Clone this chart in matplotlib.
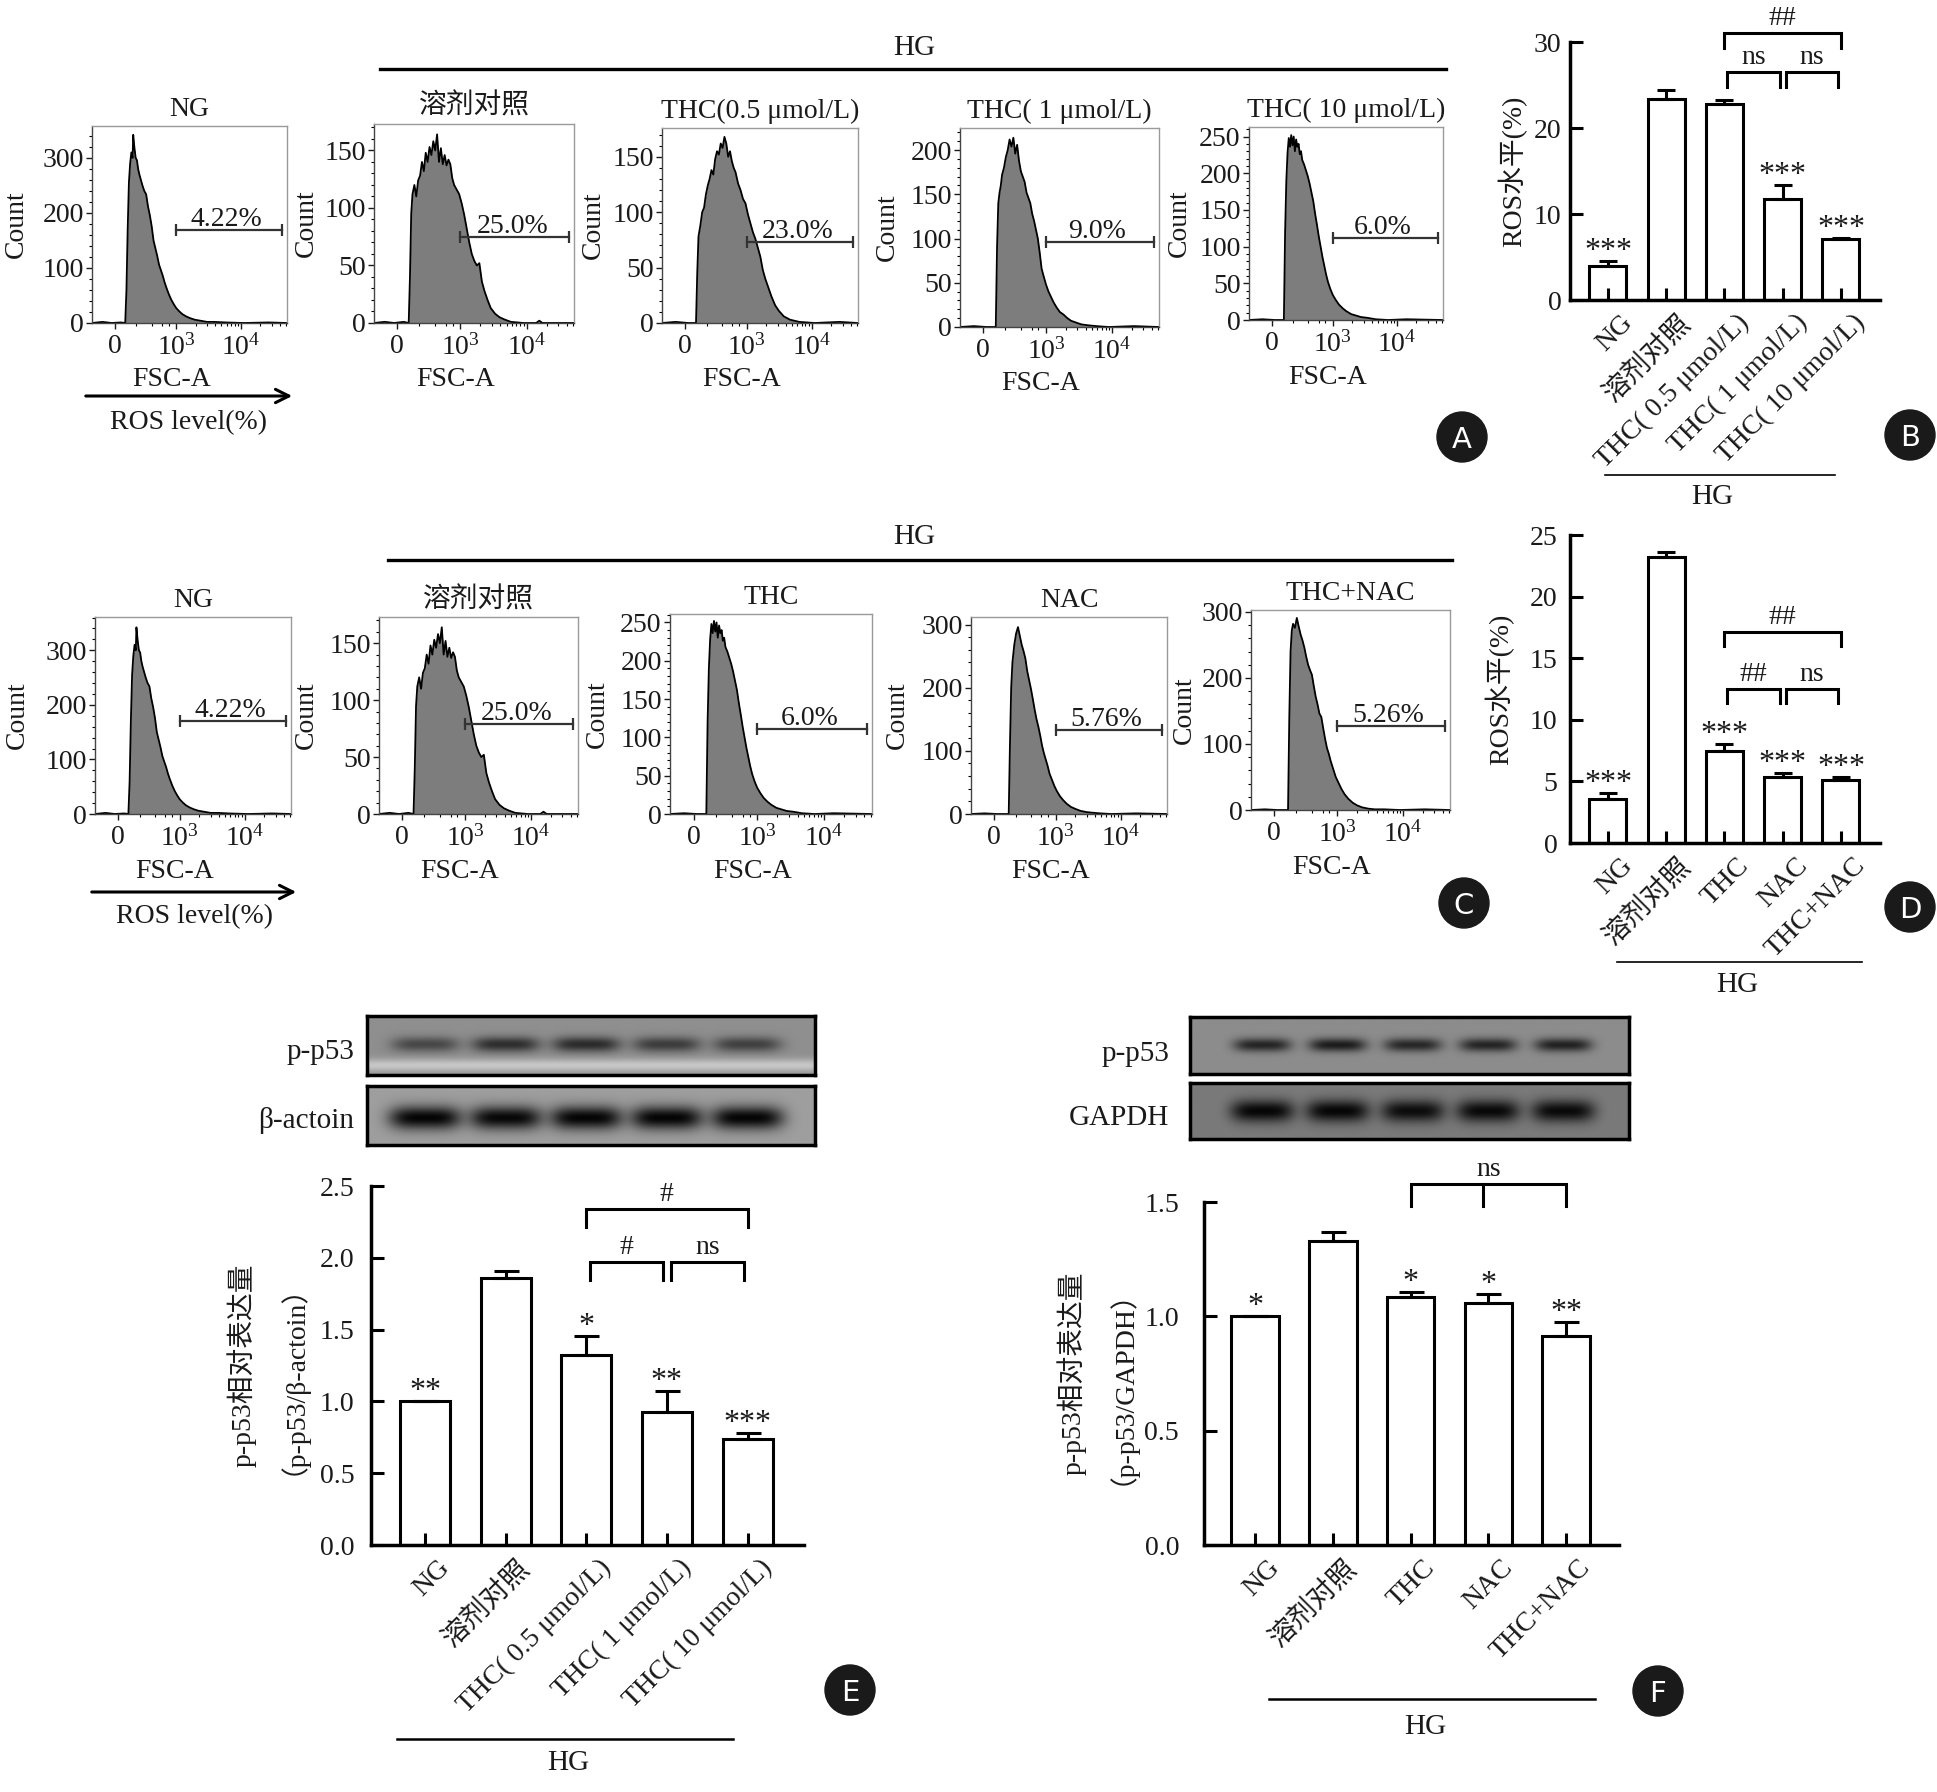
import numpy as np
import matplotlib
matplotlib.use("Agg")
import matplotlib.pyplot as plt
from matplotlib.patches import Circle, FancyArrowPatch
from matplotlib.ticker import FixedLocator, MultipleLocator

plt.rcParams['font.family'] = ['Liberation Serif', 'Noto Sans CJK SC']
plt.rcParams['mathtext.fontset'] = 'stix'
plt.rcParams['axes.unicode_minus'] = False

W, H = 1937, 1792
INK = '#1a1a1a'
FS = 20

# ---------------- flow cytometry histograms ----------------
# x in display decades: 0 -> "0", 1 -> 10^3, 2.05 -> 10^4
ng_u = [-0.37, -0.2, -0.05, 0.10, 0.17, 0.19, 0.21, 0.23, 0.25, 0.27, 0.29, 0.30, 0.32, 0.34, 0.36,
        0.38, 0.40, 0.42, 0.45, 0.48, 0.51, 0.54, 0.57, 0.60, 0.63, 0.66, 0.69, 0.72, 0.75, 0.78,
        0.81, 0.84, 0.88, 0.92, 0.96, 1.00, 1.05, 1.10, 1.16, 1.22, 1.30, 1.40, 1.50, 1.62, 1.80,
        2.10, 2.50, 2.80]
ng_c = [0, 2, 0, 1, 0, 60, 170, 255, 290, 310, 300, 342, 318, 300, 296,
        280, 270, 262, 250, 240, 234, 212, 196, 176, 150, 136, 122, 106, 96, 86,
        74, 64, 52, 42, 34, 27, 21, 16, 12, 9, 6, 4, 2, 2, 1,
        0, 1, 0]

veh_u = [-0.37, -0.2, -0.05, 0.10, 0.18, 0.20, 0.22, 0.24, 0.27, 0.30, 0.33, 0.36, 0.39, 0.42, 0.45,
         0.48, 0.51, 0.54, 0.57, 0.60, 0.63, 0.66, 0.69, 0.72, 0.75, 0.78, 0.81, 0.84, 0.87, 0.90,
         0.94, 0.98, 1.02, 1.06, 1.10, 1.14, 1.18, 1.22, 1.26, 1.30, 1.34, 1.38, 1.43, 1.48, 1.55,
         1.62, 1.70, 1.80, 2.00, 2.20, 2.25, 2.30, 2.80]
veh_c = [0, 1, 0, 1, 0, 40, 95, 112, 120, 110, 124, 128, 140, 132, 148,
         140, 153, 146, 158, 150, 164, 140, 152, 138, 146, 137, 142, 138, 126, 120,
         116, 112, 104, 94, 82, 70, 60, 54, 50, 52, 36, 28, 20, 13, 8,
         5, 3, 1, 0, 0, 2, 0, 0]

t05_u = [-0.37, -0.15, 0.05, 0.18, 0.20, 0.22, 0.25, 0.28, 0.31, 0.34, 0.37, 0.40, 0.43, 0.46, 0.49,
         0.52, 0.55, 0.58, 0.61, 0.64, 0.67, 0.70, 0.73, 0.76, 0.79, 0.82, 0.86, 0.90, 0.94, 0.98,
         1.02, 1.06, 1.10, 1.14, 1.18, 1.22, 1.26, 1.30, 1.35, 1.40, 1.46, 1.52, 1.60, 1.70, 1.85,
         2.10, 2.50, 2.80]
t05_c = [0, 1, 0, 0, 45, 78, 88, 100, 104, 116, 124, 130, 138, 134, 148,
         155, 152, 162, 158, 168, 162, 150, 155, 146, 140, 136, 126, 120, 112, 108,
         98, 90, 82, 76, 68, 60, 48, 40, 32, 24, 16, 11, 6, 3, 1,
         0, 1, 0]

t1_u = [-0.37, -0.15, 0.05, 0.20, 0.22, 0.24, 0.26, 0.28, 0.30, 0.33, 0.36, 0.39, 0.42, 0.45, 0.48,
        0.51, 0.54, 0.57, 0.60, 0.63, 0.66, 0.69, 0.72, 0.75, 0.78, 0.81, 0.84, 0.87, 0.90, 0.93,
        0.96, 1.00, 1.04, 1.08, 1.12, 1.17, 1.22, 1.28, 1.34, 1.40, 1.48, 1.56, 1.66, 1.80, 2.00,
        2.40, 2.80]
t1_c = [0, 1, 0, 0, 90, 140, 152, 160, 172, 180, 192, 200, 212, 204, 214,
        196, 206, 188, 176, 170, 164, 152, 146, 140, 128, 120, 110, 100, 84, 66,
        58, 48, 40, 34, 28, 22, 17, 14, 10, 7, 5, 3, 2, 1, 0,
        1, 0]

thc_u = [-0.37, -0.15, 0.05, 0.20, 0.22, 0.24, 0.26, 0.28, 0.30, 0.32, 0.34, 0.36, 0.38, 0.40, 0.42,
         0.44, 0.46, 0.48, 0.50, 0.53, 0.56, 0.59, 0.62, 0.65, 0.68, 0.71, 0.74, 0.77, 0.80, 0.83,
         0.86, 0.89, 0.92, 0.96, 1.00, 1.05, 1.10, 1.16, 1.22, 1.30, 1.38, 1.46, 1.56, 1.70, 1.90,
         2.20, 2.80]
thc_c = [0, 1, 0, 0, 120, 190, 228, 248, 236, 252, 238, 250, 230, 246, 236,
         240, 226, 230, 218, 212, 204, 196, 186, 174, 162, 145, 130, 114, 100, 86,
         74, 62, 52, 42, 34, 27, 21, 16, 12, 8, 6, 4, 3, 1, 0,
         1, 0]

nac_u = [-0.37, -0.15, 0.05, 0.24, 0.26, 0.28, 0.30, 0.33, 0.36, 0.39, 0.42, 0.45, 0.48, 0.51, 0.54,
         0.57, 0.60, 0.63, 0.66, 0.69, 0.72, 0.75, 0.78, 0.81, 0.84, 0.87, 0.90, 0.94, 0.98, 1.02,
         1.07, 1.12, 1.18, 1.25, 1.32, 1.40, 1.50, 1.60, 1.72, 1.90, 2.30, 2.80]
nac_c = [0, 1, 0, 0, 110, 200, 240, 268, 286, 296, 282, 268, 258, 246, 226,
         212, 198, 182, 165, 150, 138, 124, 108, 96, 86, 76, 64, 54, 44, 36,
         28, 22, 16, 11, 8, 5, 3, 2, 1, 0, 1, 0]

tn_u = [-0.37, -0.15, 0.05, 0.22, 0.24, 0.26, 0.28, 0.30, 0.33, 0.36, 0.39, 0.42, 0.45, 0.48, 0.51,
        0.54, 0.57, 0.60, 0.63, 0.66, 0.69, 0.72, 0.75, 0.78, 0.81, 0.84, 0.87, 0.90, 0.94, 0.98,
        1.02, 1.07, 1.12, 1.18, 1.25, 1.32, 1.40, 1.50, 1.60, 1.75, 2.00, 2.40, 2.80]
tn_c = [0, 1, 0, 0, 140, 240, 272, 282, 276, 291, 278, 266, 257, 246, 232,
        220, 212, 205, 188, 172, 160, 146, 141, 124, 108, 94, 85, 74, 62, 50,
        42, 32, 24, 17, 11, 7, 4, 2, 1, 1, 0, 1, 0]

titles_a = ['NG', '溶剂对照', 'THC(0.5 μmol/L)', 'THC( 1 μmol/L)', 'THC( 10 μmol/L)']
gate_txt_a = ['4.22%', '25.0%', '23.0%', '9.0%', '6.0%']
gate_a = [169, 75, 73, 96, 112]
ymax_a = [358, 173, 176, 225, 263]
ystep_a = [100, 50, 50, 50, 50]

titles_c = ['NG', '溶剂对照', 'THC', 'NAC', 'THC+NAC']
gate_txt_c = ['4.22%', '25.0%', '6.0%', '5.76%', '5.26%']
gate_c = [170, 79, 111, 133, 128]
ymax_c = [361, 173, 261, 312, 303]
ystep_c = [100, 50, 50, 100, 100]

# ---------------- bar charts ----------------
groups_dose = ['NG', '溶剂对照', 'THC( 0.5 μmol/L)', 'THC( 1 μmol/L)', 'THC( 10 μmol/L)']
groups_nac = ['NG', '溶剂对照', 'THC', 'NAC', 'THC+NAC']

ros_b = [3.9, 23.4, 22.8, 11.8, 7.05]
ros_b_err = [0.6, 1.0, 0.5, 1.6, 0.15]
stars_b = ['***', '', '', '***', '***']

ros_d = [3.6, 23.2, 7.45, 5.35, 5.15]
ros_d_err = [0.45, 0.4, 0.55, 0.35, 0.2]
stars_d = ['***', '', '***', '***', '***']

p53_e = [1.0, 1.86, 1.32, 0.925, 0.735]
p53_e_err = [0.0, 0.05, 0.135, 0.15, 0.045]
stars_e = ['**', '', '*', '**', '***']

p53_f = [1.0, 1.33, 1.085, 1.06, 0.913]
p53_f_err = [0.0, 0.04, 0.023, 0.036, 0.061]
stars_f = ['*', '', '*', '*', '**']

# comparison brackets: (group i, group j, level, label)
brk_b = [(2, 4, 31.0, '##'), (2, 3, 26.5, 'ns'), (3, 4, 26.5, 'ns')]
brk_d = [(2, 4, 17.1, '##'), (2, 3, 12.5, '##'), (3, 4, 12.5, 'ns')]
brk_e = [(2, 4, 2.34, '#'), (2, 3, 1.97, '#'), (3, 4, 1.97, 'ns')]
brk_f = [(2, 4, 1.577, 'ns')]

# western blot lane darkness
blot_e_p53 = [0.5, 0.68, 0.7, 0.58, 0.55]
blot_e_actin = [0.97, 0.95, 0.97, 0.97, 0.97]
blot_f_p53 = [0.74, 0.8, 0.72, 0.74, 0.76]
blot_f_gapdh = [0.95, 0.95, 0.9, 0.93, 0.92]

fig = plt.figure(figsize=(W / 100, H / 100), dpi=100)


def box(l, t, r, b):
    return [l / W, 1 - b / H, (r - l) / W, (b - t) / H]


DEC = [0, 1, 2.05]
minor_flow = ([0.35, 0.6, 0.77, 0.88]
              + [1 + 1.05 * np.log10(k) for k in range(2, 10)]
              + [2.05 + 1.05 * np.log10(k) for k in range(2, 6)])


def flow(rect, xs, ys, ymax, ystep, title, gate, gate_txt, lab_off=72):
    ax = fig.add_axes(box(*rect))
    ax.fill_between(xs, ys, 0, color='#7d7d7d', lw=0)
    ax.plot(xs, ys, color='black', lw=1.3)
    ax.set_xlim(-0.37, 2.8)
    ax.set_ylim(0, ymax)
    ax.set_xticks(DEC)
    ax.set_xticklabels(['0', r'$\mathregular{10^3}$', r'$\mathregular{10^4}$'])
    ax.xaxis.set_minor_locator(FixedLocator(minor_flow))
    ax.set_yticks(np.arange(0, ymax, ystep))
    ax.yaxis.set_minor_locator(MultipleLocator(ystep / 5))
    ax.tick_params(which='major', length=4, width=1, labelsize=FS, pad=2, colors=INK)
    ax.tick_params(which='minor', length=2, width=0.8)
    ax.tick_params(axis='x', pad=4)
    for s in ['top', 'right']:
        ax.spines[s].set_color('#9a9a9a')
        ax.spines[s].set_linewidth(1)
    for s in ['left', 'bottom']:
        ax.spines[s].set_color('#444444')
        ax.spines[s].set_linewidth(1)
    ax.plot([1, 2.72], [gate, gate], color='#333333', lw=1.6, marker='|', ms=9, mew=1.6)
    ax.annotate(gate_txt, xy=(1.82, gate), xytext=(0, 4), textcoords='offset pixels',
                ha='center', va='baseline', fontsize=FS, color=INK)
    ax.annotate(title, xy=(0.5, 1), xycoords='axes fraction', xytext=(0, 4),
                textcoords='offset pixels', ha='center', va='bottom', fontsize=FS, color=INK)
    ax.annotate('FSC-A', xy=(0.92, 0), xycoords=('data', 'axes fraction'), xytext=(0, -57),
                textcoords='offset pixels', ha='center', va='center', fontsize=FS, color=INK)
    ax.annotate('Count', xy=(0, 0.5), xycoords='axes fraction', xytext=(-lab_off, 0),
                textcoords='offset pixels', rotation=90, ha='center', va='center',
                fontsize=FS, color=INK)
    return ax


rects_a = [(92, 126, 287, 323), (374, 124, 574, 323), (662, 128, 858, 323),
           (960, 128, 1159, 327), (1249, 127, 1443, 320)]
hist_a = [(ng_u, ng_c), (veh_u, veh_c), (t05_u, t05_c), (t1_u, t1_c), (thc_u, thc_c)]
offs_a = [76, 68, 69, 73, 70]
for k in range(5):
    flow(rects_a[k], hist_a[k][0], hist_a[k][1], ymax_a[k], ystep_a[k], titles_a[k],
         gate_a[k], gate_txt_a[k], offs_a[k])

rects_c = [(95, 617, 291, 814), (379, 617, 578, 814), (670, 614, 872, 814),
           (971, 617, 1167, 814), (1251, 610, 1450, 810)]
hist_c = [(ng_u, ng_c), (veh_u, veh_c), (thc_u, thc_c), (nac_u, nac_c), (tn_u, tn_c)]
offs_c = [78, 73, 73, 74, 67]
for k in range(5):
    flow(rects_c[k], hist_c[k][0], hist_c[k][1], ymax_c[k], ystep_c[k], titles_c[k],
         gate_c[k], gate_txt_c[k], offs_c[k])


def bars(rect, vals, errs, labels, stars, ymax, ystep, fmt, xlim, width, cap, ypad,
         ylabs, brackets, drop, mid=None):
    ax = fig.add_axes(box(*rect))
    ax.set_axisbelow(False)
    x = np.arange(len(vals))
    ax.bar(x, vals, width=width, color='white', edgecolor='black', linewidth=2.2, zorder=2)
    ax.errorbar(x, vals, yerr=[np.zeros(len(errs)), errs], fmt='none', ecolor='black',
                elinewidth=2.2, capsize=cap, capthick=2.2, zorder=3)
    ax.set_xlim(*xlim)
    ax.set_ylim(0, ymax)
    yt = np.arange(0, ymax + 1e-9, ystep)
    ax.set_yticks(yt)
    ax.set_yticklabels([fmt.format(v) for v in yt])
    ax.set_xticks(x)
    ax.set_xticklabels([])
    ax.tick_params(direction='in', length=9, width=2.2, labelsize=FS, colors='black',
                   labelcolor=INK)
    ax.tick_params(axis='y', pad=ypad)
    for s in ['top', 'right']:
        ax.spines[s].set_visible(False)
    for s in ['left', 'bottom']:
        ax.spines[s].set_linewidth(2.5)
    for i, lab in enumerate(labels):
        ax.annotate(lab, xy=(i, 0), xytext=(12, -10), textcoords='offset pixels', rotation=45,
                    rotation_mode='anchor', ha='right', va='top', fontsize=FS, color=INK)
    for i, s in enumerate(stars):
        if s:
            ax.annotate(s, xy=(i, vals[i] + errs[i]), xytext=(0, 2), textcoords='offset pixels',
                        ha='center', va='baseline', fontsize=23, color=INK)
    for i, j, lev, lab in brackets:
        gap = 0.05 if j - i == 1 else 0.0
        x1, x2 = i + gap, j - gap
        ax.plot([x1, x1, x2, x2], [lev - drop, lev, lev, lev - drop], color='black', lw=2.2,
                clip_on=False, solid_joinstyle='miter')
        if mid is not None:
            ax.plot([mid, mid], [lev, lev - drop], color='black', lw=2.2, clip_on=False)
        ax.annotate(lab, xy=((x1 + x2) / 2, lev), xytext=(0, 8), textcoords='offset pixels',
                    ha='center', va='baseline', fontsize=FS, color=INK, annotation_clip=False)
    for txt, off in ylabs:
        ax.annotate(txt, xy=(0, 0.5), xycoords='axes fraction', xytext=(-off, 0),
                    textcoords='offset pixels', rotation=90, ha='center', va='center',
                    fontsize=FS, color=INK)
    return ax


bars((1570, 42, 1880, 300), ros_b, ros_b_err, groups_dose, stars_b, 30, 10, '{:.0f}',
     (-0.652, 4.67), 0.635, 6.8, 6, [('ROS水平(%)', 57)], brk_b, 1.7)
bars((1570, 535, 1880, 843), ros_d, ros_d_err, groups_nac, stars_d, 25, 5, '{:.0f}',
     (-0.652, 4.67), 0.635, 6.8, 9, [('ROS水平(%)', 70)], brk_d, 1.15)
bars((371, 1186, 804, 1545), p53_e, p53_e_err, groups_dose, stars_e, 2.5, 0.5, '{:.1f}',
     (-0.67, 4.7), 0.62, 9, 12,
     [('p-p53相对表达量', 129), ('（p-p53/β-actoin）', 93)], brk_e, 0.125)
bars((1204, 1202, 1619, 1545), p53_f, p53_f_err, groups_nac, stars_f, 1.5, 0.5, '{:.1f}',
     (-0.656, 4.68), 0.61, 9, 18,
     [('p-p53相对表达量', 132), ('（p-p53/GAPDH）', 97)], brk_f, 0.093, mid=2.93)


def blot(rect, xlim, dark, band_y, band_h, band_w, bg, strip=0.0):
    ax = fig.add_axes(box(*rect))
    gx = np.linspace(xlim[0], xlim[1], 450)
    gy = np.linspace(0, 1, 90)
    X, Y = np.meshgrid(gx, gy)
    img = np.full(X.shape, bg)
    img = img + strip * np.exp(-((Y - 0.84) / 0.11) ** 2)
    for i, d in enumerate(dark):
        band = np.exp(-np.abs((X - i) / band_w) ** 4) * np.exp(-((Y - band_y) / band_h) ** 2)
        img = img * (1 - d * band)
    ax.imshow(np.clip(img, 0, 1), extent=(xlim[0], xlim[1], 1, 0), cmap='gray', vmin=0, vmax=1,
              aspect='auto', interpolation='bilinear')
    ax.set_xlim(*xlim)
    ax.set_ylim(1, 0)
    ax.set_xticks([])
    ax.set_yticks([])
    for s in ax.spines.values():
        s.set_linewidth(2.5)
    return ax


blot((367, 1016, 815, 1075), (-0.719, 4.833), blot_e_p53, 0.48, 0.13, 0.42, 0.56, 0.22)
blot((367, 1086, 815, 1145), (-0.719, 4.833), blot_e_actin, 0.54, 0.2, 0.45, 0.62)
blot((1190, 1017, 1629, 1074), (-0.957, 4.88), blot_f_p53, 0.49, 0.12, 0.38, 0.55)
blot((1190, 1083, 1629, 1139), (-0.957, 4.88), blot_f_gapdh, 0.5, 0.2, 0.42, 0.48)

# ---------------- overlay in pixel coordinates ----------------
ov = fig.add_axes([0, 0, 1, 1])
ov.set_xlim(0, W)
ov.set_ylim(H, 0)
ov.axis('off')

for x1, x2, y, lw in [(380, 1446, 69, 2.4), (388, 1452, 560, 2.4), (1605, 1835, 475, 1.2),
                      (1617, 1862, 962, 1.2), (397, 733, 1739, 1.8), (1269, 1595, 1699, 1.8)]:
    ov.plot([x1, x2], [y, y], color='black', lw=lw)
for x, y in [(914, 48), (914, 537), (1712, 497), (1737, 985), (568, 1763), (1425, 1727)]:
    ov.text(x, y, 'HG', ha='center', va='center', fontsize=21, color=INK)

for x1, x2, y, ty in [(83, 295, 396, 423), (89, 299, 892, 917)]:
    ov.add_patch(FancyArrowPatch((x1, y), (x2, y), arrowstyle='->', mutation_scale=24,
                                 lw=2.2, color='black'))
    ov.text((x1 + x2) / 2, ty, 'ROS level(%)', ha='center', va='center', fontsize=FS, color=INK)

for x, y, t in [(354, 1052, 'p-p53'), (354, 1120, 'β-actoin'),
                (1169, 1054, 'p-p53'), (1169, 1118, 'GAPDH')]:
    ov.text(x, y, t, ha='right', va='center', fontsize=21, color=INK)

for x, y, t in [(1462, 437, 'A'), (1910, 435, 'B'), (1464, 903, 'C'), (1910, 907, 'D'),
                (850, 1690, 'E'), (1658, 1691, 'F')]:
    ov.add_patch(Circle((x, y), 25, color='#1a1a1a'))
    ov.text(x, y, t, ha='center', va='center_baseline', fontsize=21, color='white',
            family='DejaVu Sans')

fig.savefig('out.png', dpi=100)
